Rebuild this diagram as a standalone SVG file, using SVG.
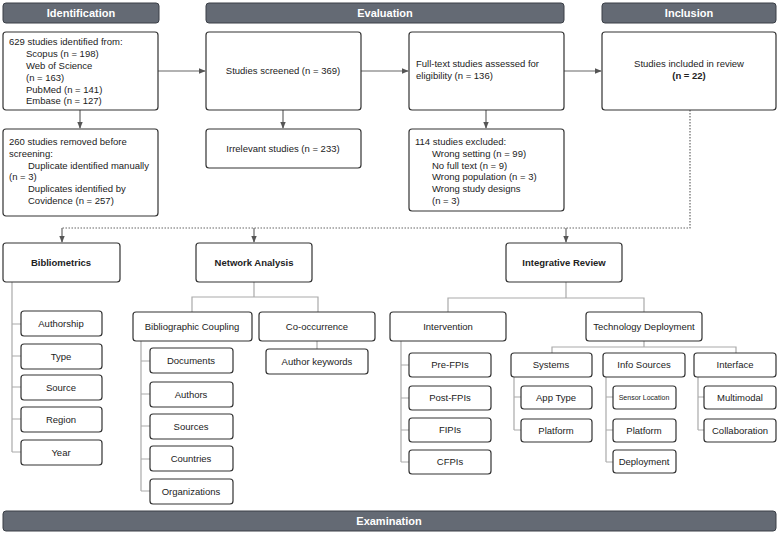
<svg xmlns="http://www.w3.org/2000/svg" width="779" height="534" viewBox="0 0 779 534">
<style>
text{font-family:"Liberation Sans",Arial,sans-serif;font-size:9.5px;fill:#222}
.hd rect{fill:#646a74;stroke:#3a3f47;stroke-width:1}
.hd text{fill:#fff;font-weight:bold;font-size:11px;text-anchor:middle}
.b{fill:#fff;stroke:#333;stroke-width:1.2}
.c{text-anchor:middle}
.bo{font-weight:bold}
.ln{fill:none;stroke:#aaa;stroke-width:1.2}
.ar{fill:none;stroke:#666;stroke-width:1.2;marker-end:url(#m)}
.dt{fill:none;stroke:#666;stroke-width:1.2;stroke-dasharray:1.5 1.5}
</style>
<defs><marker id="m" viewBox="0 0 10 10" refX="9" refY="5" markerWidth="6" markerHeight="6" orient="auto"><path d="M0,1L10,5L0,9z" fill="#555"/></marker></defs>
<g id="headers" class="hd">
<rect x="3" y="3" width="156" height="20" rx="3"/><text x="81" y="17">Identification</text>
<rect x="206" y="3" width="358" height="20" rx="3"/><text x="385" y="17">Evaluation</text>
<rect x="602" y="3" width="174" height="20" rx="3"/><text x="689" y="17">Inclusion</text>
<rect x="3" y="511" width="773" height="20" rx="3"/><text x="389" y="525">Examination</text>
</g>
<g id="connectors">
<path class="ar" d="M158,71H205"/><path class="ar" d="M361,71H408"/><path class="ar" d="M564,71H601"/>
<path class="ar" d="M80,110V128"/><path class="ar" d="M283,110V128"/><path class="ar" d="M486,110V128"/>
<path class="dt" d="M690,110V228H62"/><path class="ar" d="M62,228V242"/><path class="ar" d="M254,228V242"/><path class="ar" d="M566,228V242"/>
<path class="ln" d="M12,282V452M12,324H21M12,356H21M12,387H21M12,419H21M12,452H21"/>
<path class="ln" d="M254,282V297M192,312V297H318V312"/>
<path class="ln" d="M141,341V491M141,361H150M141,394H150M141,426H150M141,459H150M141,491H150"/>
<path class="ln" d="M317,341V349"/>
<path class="ln" d="M566,282V298M448,312V298H644V312"/>
<path class="ln" d="M401,341V462M401,365H409M401,398H409M401,430H409M401,462H409"/>
<path class="ln" d="M644,341V347M552,353V347H736V353"/>
<path class="ln" d="M514,377V430M514,397H521M514,430H521"/>
<path class="ln" d="M606,377V462M606,397H613M606,430H613M606,462H613"/>
<path class="ln" d="M698,377V430M698,397H704M698,430H704"/>
</g>
<g id="n-identified"><rect class="b" x="3" y="32" width="155" height="78" rx="3"/>
<text x="9" y="45">629 studies identified from:</text><text x="26" y="57">Scopus (n = 198)</text><text x="26" y="69">Web of Science</text><text x="26" y="81">(n = 163)</text><text x="26" y="93">PubMed (n = 141)</text><text x="26" y="104">Embase (n = 127)</text></g>
<g id="n-removed"><rect class="b" x="3" y="129" width="155" height="87" rx="3"/>
<text x="9" y="145">260 studies removed before</text><text x="9" y="157">screening:</text><text x="28" y="169">Duplicate identified  manually</text><text x="9" y="180">(n = 3)</text><text x="28" y="192">Duplicates identified by</text><text x="28" y="204">Covidence (n = 257)</text></g>
<g id="n-screened"><rect class="b" x="206" y="32" width="155" height="78" rx="3"/><text class="c" x="283" y="74">Studies screened (n = 369)</text></g>
<g id="n-irrelevant"><rect class="b" x="206" y="129" width="155" height="39" rx="3"/><text class="c" x="283" y="152">Irrelevant studies (n = 233)</text></g>
<g id="n-fulltext"><rect class="b" x="409" y="32" width="155" height="78" rx="3"/><text x="416" y="67">Full-text studies assessed for</text><text x="416" y="79">eligibility (n = 136)</text></g>
<g id="n-excluded"><rect class="b" x="409" y="129" width="155" height="82" rx="3"/>
<text x="415" y="145">114 studies excluded:</text><text x="432" y="157">Wrong setting (n = 99)</text><text x="432" y="169">No full text (n = 9)</text><text x="432" y="180">Wrong population (n = 3)</text><text x="432" y="192">Wrong study designs</text><text x="432" y="204">(n = 3)</text></g>
<g id="n-included"><rect class="b" x="602" y="32" width="174" height="78" rx="3"/><text class="c" x="689" y="67">Studies included in review</text><text class="c bo" x="689" y="79">(n = 22)</text></g>
<g id="n-biblio"><rect class="b" x="3" y="243" width="117" height="39" rx="3"/><text class="c bo" x="61" y="266">Bibliometrics</text></g>
<g id="n-network"><rect class="b" x="196" y="243" width="116" height="39" rx="3"/><text class="c bo" x="254" y="266">Network Analysis</text></g>
<g id="n-integrative"><rect class="b" x="506" y="243" width="116" height="39" rx="3"/><text class="c bo" x="564" y="266">Integrative Review</text></g>
<g id="n-authorship"><rect class="b" x="21" y="311" width="81" height="25" rx="3"/><text class="c" x="61" y="327">Authorship</text></g>
<g id="n-type"><rect class="b" x="21" y="344" width="81" height="25" rx="3"/><text class="c" x="61" y="360">Type</text></g>
<g id="n-source"><rect class="b" x="21" y="375" width="81" height="25" rx="3"/><text class="c" x="61" y="391">Source</text></g>
<g id="n-region"><rect class="b" x="21" y="407" width="81" height="25" rx="3"/><text class="c" x="61" y="423">Region</text></g>
<g id="n-year"><rect class="b" x="21" y="440" width="81" height="25" rx="3"/><text class="c" x="61" y="456">Year</text></g>
<g id="n-bibcoupling"><rect class="b" x="133" y="312" width="119" height="29" rx="3"/><text class="c" x="192" y="330">Bibliographic Coupling</text></g>
<g id="n-cooc"><rect class="b" x="259" y="312" width="116" height="29" rx="3"/><text class="c" x="317" y="330">Co-occurrence</text></g>
<g id="n-documents"><rect class="b" x="150" y="348" width="83" height="25" rx="3"/><text class="c" x="191" y="364">Documents</text></g>
<g id="n-authors"><rect class="b" x="150" y="382" width="83" height="25" rx="3"/><text class="c" x="191" y="398">Authors</text></g>
<g id="n-sources"><rect class="b" x="150" y="414" width="83" height="25" rx="3"/><text class="c" x="191" y="430">Sources</text></g>
<g id="n-countries"><rect class="b" x="150" y="446" width="83" height="25" rx="3"/><text class="c" x="191" y="462">Countries</text></g>
<g id="n-orgs"><rect class="b" x="150" y="479" width="83" height="25" rx="3"/><text class="c" x="191" y="495">Organizations</text></g>
<g id="n-keywords"><rect class="b" x="266" y="349" width="102" height="25" rx="3"/><text class="c" x="317" y="365">Author keywords</text></g>
<g id="n-intervention"><rect class="b" x="390" y="312" width="116" height="29" rx="3"/><text class="c" x="448" y="330">Intervention</text></g>
<g id="n-techdep"><rect class="b" x="586" y="312" width="116" height="29" rx="3"/><text class="c" x="644" y="330">Technology Deployment</text></g>
<g id="n-pre"><rect class="b" x="409" y="353" width="82" height="24" rx="3"/><text class="c" x="450" y="368">Pre-FPIs</text></g>
<g id="n-post"><rect class="b" x="409" y="386" width="82" height="24" rx="3"/><text class="c" x="450" y="401">Post-FPIs</text></g>
<g id="n-fipis"><rect class="b" x="409" y="418" width="82" height="24" rx="3"/><text class="c" x="450" y="433">FIPIs</text></g>
<g id="n-cfpis"><rect class="b" x="409" y="450" width="82" height="24" rx="3"/><text class="c" x="450" y="465">CFPIs</text></g>
<g id="n-systems"><rect class="b" x="511" y="353" width="81" height="24" rx="3"/><text class="c" x="551" y="368">Systems</text></g>
<g id="n-infosrc"><rect class="b" x="603" y="353" width="82" height="24" rx="3"/><text class="c" x="644" y="368">Info Sources</text></g>
<g id="n-interface"><rect class="b" x="694" y="353" width="82" height="24" rx="3"/><text class="c" x="735" y="368">Interface</text></g>
<g id="n-apptype"><rect class="b" x="521" y="386" width="71" height="23" rx="3"/><text class="c" x="556" y="401">App Type</text></g>
<g id="n-platform1"><rect class="b" x="521" y="419" width="71" height="23" rx="3"/><text class="c" x="556" y="434">Platform</text></g>
<g id="n-sensor"><rect class="b" x="613" y="386" width="63" height="23" rx="3"/><text class="c" x="644" y="400" style="font-size:7px">Sensor Location</text></g>
<g id="n-platform2"><rect class="b" x="613" y="419" width="63" height="23" rx="3"/><text class="c" x="644" y="434">Platform</text></g>
<g id="n-deployment"><rect class="b" x="613" y="450" width="63" height="23" rx="3"/><text class="c" x="644" y="465">Deployment</text></g>
<g id="n-multimodal"><rect class="b" x="704" y="386" width="72" height="23" rx="3"/><text class="c" x="740" y="401">Multimodal</text></g>
<g id="n-collab"><rect class="b" x="704" y="419" width="72" height="23" rx="3"/><text class="c" x="740" y="434">Collaboration</text></g>
</svg>
